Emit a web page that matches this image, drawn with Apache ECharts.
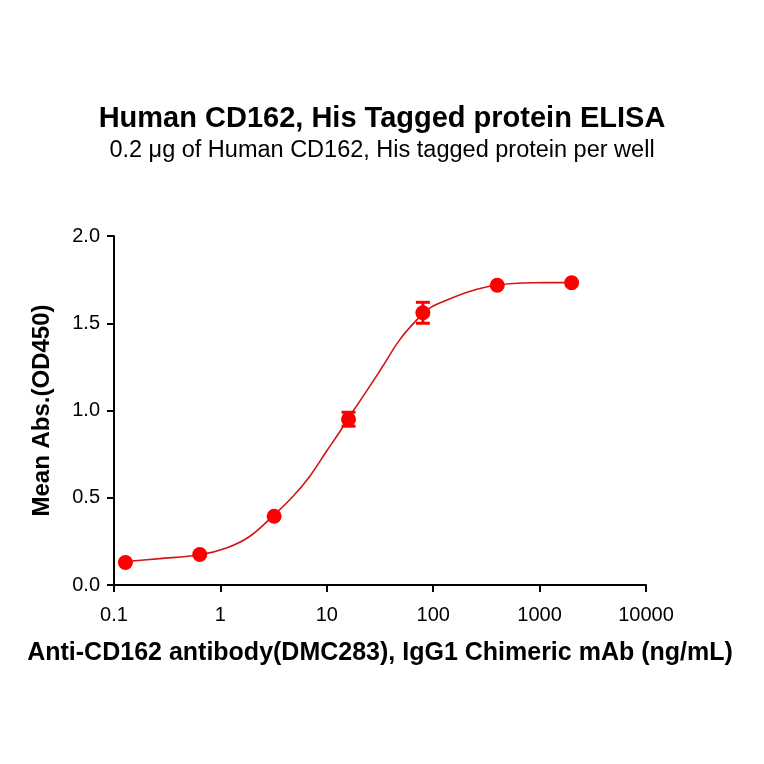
<!DOCTYPE html>
<html>
<head>
<meta charset="utf-8">
<script src="https://cdn.jsdelivr.net/npm/echarts@6/dist/echarts.min.js"></script>
<style>
  html, body { margin: 0; padding: 0; background: #fff; }
  #main { width: 764px; height: 764px; }
</style>
</head>
<body>
<div id="main"></div>
<script>
// measured points (ng/mL, OD450)
var doseX = [0.128, 0.64, 3.2, 16, 80, 400, 2000];
var meanY = [0.129, 0.175, 0.394, 0.95, 1.56, 1.718, 1.732];
// error bars, only visible on two points
var errX = [16, 80];
var errLow = [0.91, 1.50];
var errHigh = [0.99, 1.62];

// fitted curve
var curveX = [0.13, 0.27, 0.64, 1.14, 1.88, 3.1, 4.8, 6.9, 9.9, 13.2, 16, 20.3, 25.2, 33.7, 48, 69, 92, 115, 220, 400, 865, 2000];
var curveY = [0.135, 0.151, 0.173, 0.212, 0.278, 0.394, 0.507, 0.622, 0.765, 0.877, 0.958, 1.051, 1.137, 1.255, 1.402, 1.515, 1.585, 1.616, 1.682, 1.719, 1.732, 1.733];

var xTickLabels = ['0.1', '1', '10', '100', '1000', '10000'];
var yTickLabels = ['0.0', '0.5', '1.0', '1.5', '2.0'];

var myChart = echarts.init(document.getElementById('main'));

var pts = doseX.map(function (x, i) { return [x, meanY[i]]; });
var curve = curveX.map(function (x, i) { return [x, curveY[i]]; });
var errs = errX.map(function (x, i) { return [x, errLow[i], errHigh[i]]; });

var font = 'Liberation Sans, Arial, sans-serif';

var option = {
    backgroundColor: '#fff',
    animation: false,
    title: [
        {
            text: 'Human CD162, His Tagged protein ELISA',
            left: 'center',
            top: 99,
            textStyle: { fontFamily: font, fontSize: 29, fontWeight: 'bold', color: '#000' }
        },
        {
            text: '0.2 \u03bcg of Human CD162, His tagged protein per well',
            left: 'center',
            top: 134,
            textStyle: { fontFamily: font, fontSize: 23.5, fontWeight: 'normal', color: '#000' }
        }
    ],
    grid: { left: 114, right: 118, top: 236, bottom: 179 },
    xAxis: {
        type: 'log',
        logBase: 10,
        min: 0.1,
        max: 10000,
        name: 'Anti-CD162 antibody(DMC283), IgG1 Chimeric mAb (ng/mL)',
        nameLocation: 'middle',
        nameGap: 56,
        nameTextStyle: { fontFamily: font, fontSize: 25, fontWeight: 'bold', color: '#000' },
        axisLine: { lineStyle: { color: '#000', width: 2 } },
        axisTick: { length: 7, lineStyle: { color: '#000', width: 2 } },
        minorTick: { show: false },
        splitLine: { show: false },
        axisLabel: {
            margin: 20,
            fontFamily: font, fontSize: 20, color: '#000',
            formatter: function (v) {
                var k = Math.round(Math.log10(v)) + 1;
                return xTickLabels[k] || '';
            }
        }
    },
    yAxis: {
        type: 'value',
        min: 0,
        max: 2,
        interval: 0.5,
        name: 'Mean Abs.(OD450)',
        nameLocation: 'middle',
        nameGap: 60,
        nameTextStyle: { fontFamily: font, fontSize: 24, fontWeight: 'bold', color: '#000' },
        axisLine: { show: true, lineStyle: { color: '#000', width: 2 } },
        axisTick: { show: true, length: 7, lineStyle: { color: '#000', width: 2 } },
        splitLine: { show: false },
        axisLabel: {
            margin: 14,
            fontFamily: font, fontSize: 20, color: '#000',
            formatter: function (v) { return yTickLabels[Math.round(v / 0.5)]; }
        }
    },
    series: [
        {
            type: 'line',
            data: curve,
            smooth: 0.35,
            showSymbol: false,
            lineStyle: { color: '#d41414', width: 1.6 },
            z: 2
        },
        {
            type: 'custom',
            data: errs,
            renderItem: function (params, api) {
                var x = api.value(0);
                var lo = api.coord([x, api.value(1)]);
                var hi = api.coord([x, api.value(2)]);
                var w = 7;
                var st = { stroke: '#ff0000', lineWidth: 3 };
                return {
                    type: 'group',
                    children: [
                        { type: 'line', shape: { x1: lo[0], y1: lo[1], x2: hi[0], y2: hi[1] }, style: st },
                        { type: 'line', shape: { x1: lo[0] - w, y1: lo[1], x2: lo[0] + w, y2: lo[1] }, style: st },
                        { type: 'line', shape: { x1: hi[0] - w, y1: hi[1], x2: hi[0] + w, y2: hi[1] }, style: st }
                    ]
                };
            },
            z: 3
        },
        {
            type: 'scatter',
            data: pts,
            symbol: 'circle',
            symbolSize: 15,
            itemStyle: { color: '#ff0000', opacity: 1 },
            z: 4
        }
    ]
};
myChart.setOption(option);
</script>
</body>
</html>
